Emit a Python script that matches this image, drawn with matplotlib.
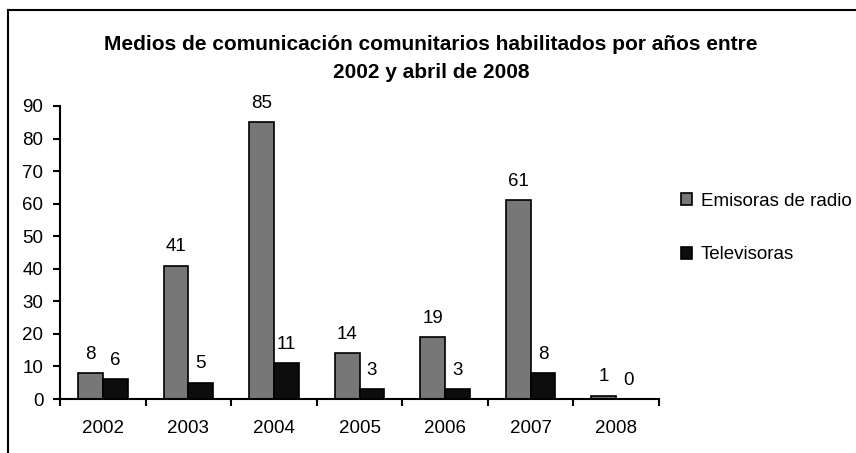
import matplotlib
matplotlib.use("Agg")
import matplotlib.pyplot as plt
import numpy as np
from matplotlib.lines import Line2D

# data
years = ["2002", "2003", "2004", "2005", "2006", "2007", "2008"]
radio = [8, 41, 85, 14, 19, 61, 1]
tv = [6, 5, 11, 3, 3, 8, 0]

plt.rcParams['font.family'] = ['Liberation Sans', 'DejaVu Sans']

fig = plt.figure(figsize=(8.56, 4.53), dpi=100)
ax = fig.add_axes([60/856, 1 - 399/453, (659 - 60)/856, (399 - 106)/453])

x = np.arange(len(years))
w = 0.29
b1 = ax.bar(x - w/2, radio, w, color="#777777", edgecolor="black", linewidth=1.2,
            label="Emisoras de radio")
b2 = ax.bar(x + w/2, tv, w, color="#0d0d0d", edgecolor="black", linewidth=1.2,
            label="Televisoras")
ax.bar_label(b1, padding=7.5, fontsize=13.5)
ax.bar_label(b2, padding=7.5, fontsize=13.5)

ax.set_xlim(-0.5, len(years) - 0.5)
ax.set_ylim(0, 90)
ax.set_yticks(range(0, 91, 10))
ax.set_xticks(x)
ax.set_xticklabels(years)
ax.set_xticks(np.arange(-0.5, len(years)), minor=True)
ax.tick_params(axis="x", which="major", length=0, pad=15, labelsize=13.5)
ax.tick_params(axis="x", which="minor", length=5, width=1.5, direction="out")
ax.tick_params(axis="y", length=5, width=1.5, pad=7, labelsize=13.5)
for s in ["top", "right"]:
    ax.spines[s].set_visible(False)
for s in ["left", "bottom"]:
    ax.spines[s].set_linewidth(1.5)

fig.text(431/856, 1 - 45/453, "Medios de comunicación comunitarios habilitados por años entre",
         ha="center", va="center", fontsize=15, fontweight="bold")
fig.text(431/856, 1 - 72/453, "2002 y abril de 2008",
         ha="center", va="center", fontsize=15, fontweight="bold")

fig.legend(handles=[b1, b2], loc="center left", bbox_to_anchor=(681/856, 1 - 228/453),
           frameon=False, fontsize=13.5, handlelength=0.6, handleheight=0.6,
           handletextpad=0.45, labelspacing=1.95, borderpad=0, borderaxespad=0)

# outer frame (only top and left visible)
fig.add_artist(Line2D([8/856, 8/856], [0, 1 - 10/453], transform=fig.transFigure,
                      color="black", linewidth=1.5))
fig.add_artist(Line2D([8/856, 1], [1 - 10/453, 1 - 10/453], transform=fig.transFigure,
                      color="black", linewidth=1.5))

fig.savefig("out.png", dpi=100)
